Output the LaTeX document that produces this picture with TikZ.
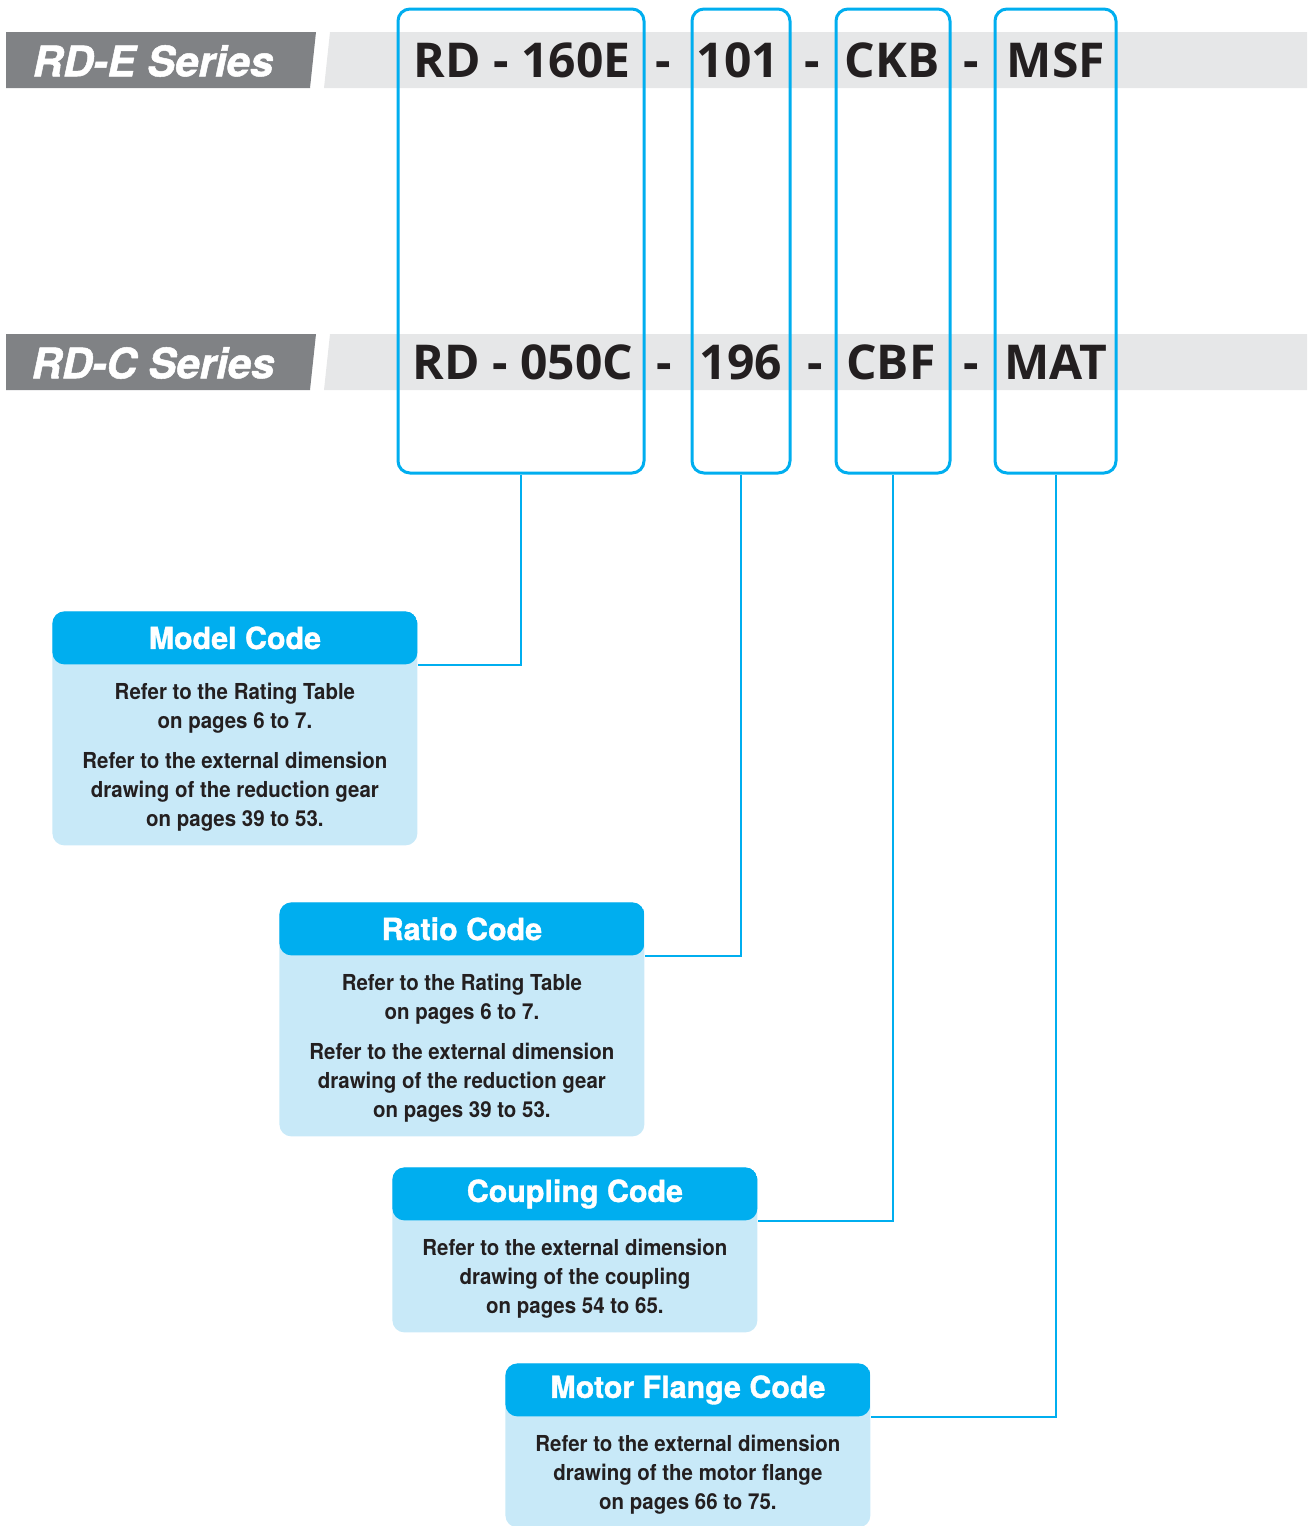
\documentclass[tikz,border=0pt]{standalone}
\usepackage{fontspec}
\setmainfont{TeX Gyre Heros}
\newfontfamily\codefont{Open Sans}
\newfontfamily\condfont[FakeStretch=0.93]{TeX Gyre Heros}
\newfontfamily\heavyfont[FakeBold=1.2]{TeX Gyre Heros}
\usepackage{xcolor}
\definecolor{cyanline}{HTML}{00AEEF}
\definecolor{cardfill}{HTML}{C8E9F8}
\definecolor{bandgray}{HTML}{808285}
\definecolor{bandlight}{HTML}{E6E7E8}
\definecolor{inktext}{HTML}{231F20}
\usetikzlibrary{positioning,calc}

\begin{document}
\begin{tikzpicture}[x=0.5pt, y=-0.5pt,
      code/.style={font=\codefont\fontsize{24}{28}\bfseries\selectfont, text=inktext, inner sep=0pt,
                   text height=17pt, text depth=0pt},
      series/.style={font=\heavyfont\fontsize{21}{25}\bfseries\itshape\selectfont, text=white, inner sep=0pt},
      slot/.style={draw=cyanline, line width=1.5pt, rounded corners=6pt, minimum height=232pt},
      card/.style={fill=cardfill, rounded corners=6pt, minimum width=182.5pt, anchor=north west,
                   path picture={\fill[cyanline] (path picture bounding box.north west)
                     rectangle ([yshift=-26.5pt]path picture bounding box.north east);}},
      hdr/.style={font=\heavyfont\fontsize{15.2}{18}\bfseries\selectfont, text=white, anchor=north,
                  minimum width=182.5pt, minimum height=26.5pt, inner sep=0pt},
      txt/.style={font=\condfont\fontsize{11}{14.5}\bfseries\selectfont, text=inktext, align=center,
                  yshift=-1pt},
      link/.style={draw=cyanline, line width=1pt}]
    \useasboundingbox (0,0) rectangle (1307,1526);
    % --- series bands ---
    \fill[bandgray] (6,32) -- (316,32) -- (310,88) -- (6,88) -- cycle;
    \fill[bandlight] (330,32) -- (1307,32) -- (1307,88) -- (324,88) -- cycle;
    \fill[bandgray] (6,334) -- (316,334) -- (310,390) -- (6,390) -- cycle;
    \fill[bandlight] (330,334) -- (1307,334) -- (1307,390) -- (324,390) -- cycle;
    \node[series] (eseries) at (153,61) {RD-E Series};
    \node[series] (cseries) at (153,363) {RD-C Series};
    % --- RD-E code ---
    \node[code] (emodel) at (522,60) {RD - 160E};
    \node[code] (ed1) at (663,60) {-};
    \node[code] (eratio) at (738,60) {101};
    \node[code] (ed2) at (812,60) {-};
    \node[code] (ecoup) at (892,60) {CKB};
    \node[code] (ed3) at (971,60) {-};
    \node[code] (eflange) at (1056,60) {MSF};
    % --- RD-C code ---
    \node[code] (cmodel) at (523,362) {RD - 050C};
    \node[code] (cd1) at (664,362) {-};
    \node[code] (cratio) at (741,362) {196};
    \node[code] (cd2) at (815,362) {-};
    \node[code] (ccoup) at (891,362) {CBF};
    \node[code] (cd3) at (971,362) {-};
    \node[code] (cflange) at (1056,362) {MAT};
    % --- code slots ---
    \node[slot, minimum width=123pt] (smodel) at (521,241) {};
    \node[slot, minimum width=49pt] (sratio) at (741,241) {};
    \node[slot, minimum width=57pt] (scoup) at (893,241) {};
    \node[slot, minimum width=60.5pt] (sflange) at (1055.5,241) {};
    % --- explanation cards ---
    \node[card, minimum height=117pt] (model) at (52,611) {};
    \node[hdr] (mhead) at (model.north) {Model Code};
    \node[txt] (mtext) at ($(mhead.south)!0.5!(model.south)$)
      {Refer to the Rating Table\\on pages 6 to 7.\\[5.5pt]Refer to the external dimension\\drawing of the reduction gear\\on pages 39 to 53.};
    \node[card, minimum height=117pt] (ratio) at (279,902) {};
    \node[hdr] (rhead) at (ratio.north) {Ratio Code};
    \node[txt] (rtext) at ($(rhead.south)!0.5!(ratio.south)$)
      {Refer to the Rating Table\\on pages 6 to 7.\\[5.5pt]Refer to the external dimension\\drawing of the reduction gear\\on pages 39 to 53.};
    \node[card, minimum height=82.5pt] (coup) at (392,1167) {};
    \node[hdr] (chead) at (coup.north) {Coupling Code};
    \node[txt] (ctext) at ($(chead.south)!0.5!(coup.south)$)
      {Refer to the external dimension\\drawing of the coupling\\on pages 54 to 65.};
    \node[card, minimum height=82pt] (flange) at (505,1363) {};
    \node[hdr] (fhead) at (flange.north) {Motor Flange Code};
    \node[txt] (ftext) at ($(fhead.south)!0.5!(flange.south)$)
      {Refer to the external dimension\\drawing of the motor flange\\on pages 66 to 75.};
    % --- leader lines ---
    \draw[link] (smodel.south) |- (mhead.south east);
    \draw[link] (sratio.south) |- (rhead.south east);
    \draw[link] (scoup.south) |- (chead.south east);
    \draw[link] (sflange.south) |- (fhead.south east);
  \end{tikzpicture}
\end{document}
